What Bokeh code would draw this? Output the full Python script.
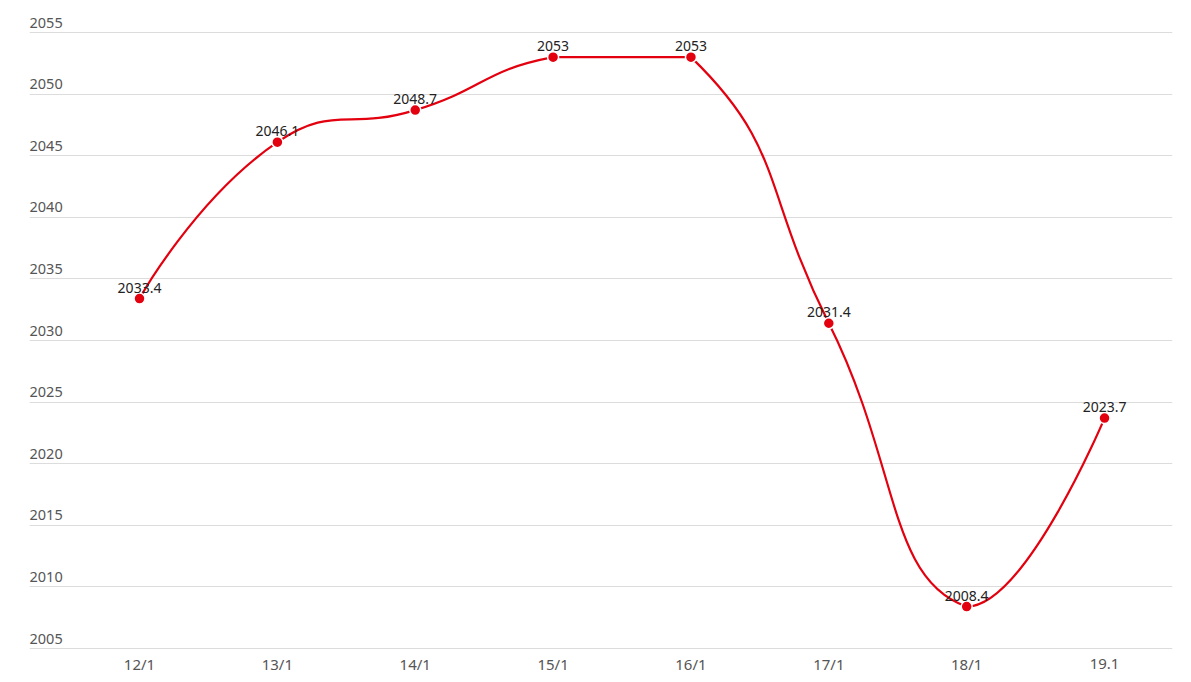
import math
from bokeh.plotting import figure
from bokeh.models import Range1d, FixedTicker, ColumnDataSource
from bokeh.core.properties import value
from bokeh.embed import file_html
from bokeh.resources import INLINE

categories = ["12/1", "13/1", "14/1", "15/1", "16/1", "17/1", "18/1", "19.1"]
values = [2033.4, 2046.1, 2048.7, 2053, 2053, 2031.4, 2008.4, 2023.7]
yticks = [2005, 2010, 2015, 2020, 2025, 2030, 2035, 2040, 2045, 2050, 2055]

FONT = "Noto Sans"
RED = "#e3000f"

W, H = 1191, 682
BL, BR, BT, BB = 29, 19, 0, 0
PXU = 12.32  # px per y unit
x0, x1 = -0.798, 7.493
y1 = 2055 + 32 / PXU
y0 = 2005 - (682 - 648) / PXU

p = figure(width=W, height=H, output_backend="svg", toolbar_location=None,
           x_range=Range1d(x0, x1), y_range=Range1d(y0, y1),
           min_border_left=BL, min_border_right=BR, min_border_top=BT, min_border_bottom=BB)
p.outline_line_color = None
p.background_fill_color = "white"
p.border_fill_color = "white"
p.xaxis.visible = False
p.yaxis.visible = False

fw = W - BL - BR
fh = H - BT - BB
sx = fw / (x1 - x0)
sy = fh / (y1 - y0)

xs = list(range(len(values)))
pts = [(x * sx, v * sy) for x, v in zip(xs, values)]

# smooth bezier with bounding-box constraint (smooth = 0.5)
smooth = 0.5
n = len(pts)
minx = min(q[0] for q in pts); maxx = max(q[0] for q in pts)
miny = min(q[1] for q in pts); maxy = max(q[1] for q in pts)

def clamp(c):
    return (min(max(c[0], minx), maxx), min(max(c[1], miny), maxy))

cps = []
for i in range(n):
    if i == 0 or i == n - 1:
        cps.append((pts[i], pts[i]))
        continue
    px, py = pts[i]
    ax, ay = pts[i - 1]
    bx, by = pts[i + 1]
    vx, vy = (bx - ax) * smooth, (by - ay) * smooth
    d0 = math.hypot(px - ax, py - ay)
    d1 = math.hypot(px - bx, py - by)
    s = d0 + d1
    d0 /= s; d1 /= s
    c0 = clamp((px - vx * d0, py - vy * d0))
    c1 = clamp((px + vx * d1, py + vy * d1))
    cps.append((c0, c1))

segs = []
for i in range(1, n):
    a = pts[i - 1]; b = pts[i]
    ca = cps[i - 1][1]; cb = cps[i][0]
    segs.append((a, ca, cb, b))

bz = ColumnDataSource(dict(
    x0=[s[0][0] / sx for s in segs], y0=[s[0][1] / sy for s in segs],
    cx0=[s[1][0] / sx for s in segs], cy0=[s[1][1] / sy for s in segs],
    cx1=[s[2][0] / sx for s in segs], cy1=[s[2][1] / sy for s in segs],
    x1=[s[3][0] / sx for s in segs], y1=[s[3][1] / sy for s in segs],
))

# grid
p.xgrid.visible = False
p.ygrid.ticker = FixedTicker(ticks=yticks)
p.ygrid.grid_line_color = "#dcdcdc"
p.ygrid.grid_line_width = 1

# y tick labels above grid lines
p.text(x=[x0] * len(yticks), y=yticks, text=[str(t) for t in yticks],
       text_font=value(FONT), text_font_size="14.5px", text_color="#555555",
       text_align="left", text_baseline="bottom", y_offset=-5)

# x category labels below the baseline
p.text(x=xs, y=[yticks[0]] * len(xs), text=categories,
       text_font=value(FONT), text_font_size="15px", text_color="#555555",
       text_align="center", text_baseline="middle", y_offset=15)

# line
p.bezier(x0="x0", y0="y0", x1="x1", y1="y1", cx0="cx0", cy0="cy0", cx1="cx1", cy1="cy1",
         source=bz, line_color=RED, line_width=2.2)

# points
p.scatter(xs, values, size=11, fill_color=RED, line_color="white", line_width=1.5)

# data labels
p.text(x=xs, y=values, text=[f"{v:g}" for v in values],
       text_font=value(FONT), text_font_size="14px", text_color="#222222",
       text_align="center", text_baseline="bottom", y_offset=-6)

open("out.html", "w").write(file_html(p, INLINE))
